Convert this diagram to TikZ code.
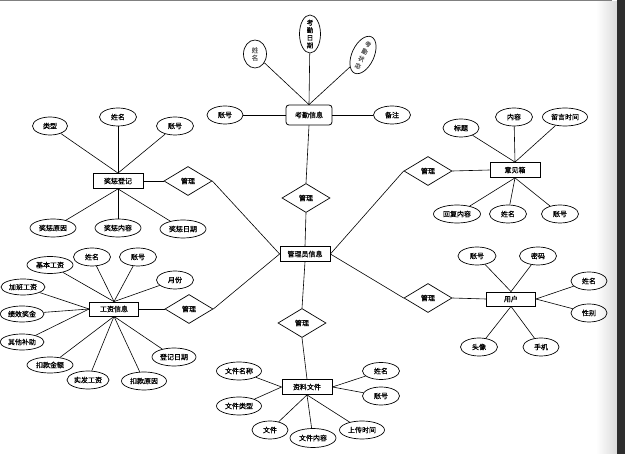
\documentclass[tikz,border=0pt]{standalone}
\usepackage{fontspec}
\newfontfamily\cjk[FakeBold=0.6]{Noto Sans CJK SC}
\usetikzlibrary{shapes.geometric}

\begin{document}
\begin{tikzpicture}[x=1pt,y=-1pt]
        \tikzset{entity box/.style={draw=black, line width=0.8pt, rectangle, inner sep=0pt,
                    minimum width=50, minimum height=15, font=\cjk\fontsize{7}{8}\selectfont},
                 attr oval/.style={draw=black, line width=0.7pt, ellipse, inner sep=0pt,
                    minimum width=37, minimum height=18, font=\cjk\fontsize{7}{8}\selectfont},
                 wide oval/.style={attr oval, minimum width=46},
                 rel diamond/.style={draw=black, line width=0.7pt, diamond, inner sep=0pt,
                    minimum width=48, minimum height=29, font=\cjk\fontsize{7}{8}\selectfont},
                 stack text/.style={font=\cjk\fontsize{6.5}{7.6}\selectfont, align=center, inner sep=0pt},
                 link/.style={draw=black, line width=0.6pt}}

        % page edge
        \useasboundingbox (0,0) rectangle (625,454);
        \fill[black!50] (0,0) rectangle (612,1.5);
        \draw[black!30, line width=0.5pt] (611,1.5) -- (611,14) -- (614,14);
        \shade[left color=white, right color=black!14] (596,1.5) rectangle (617,454);
        \fill[black!82] (617,0) rectangle (625,454);

        % central entity and relations
        \node[entity box] (admin) at (305,254) {管理员信息};
        \node[rel diamond] (r-kq) at (306,198) {管理};
        \node[rel diamond] (r-jc) at (188,181) {管理};
        \node[rel diamond] (r-gz) at (189,309) {管理};
        \node[rel diamond] (r-yj) at (428,171) {管理};
        \node[rel diamond] (r-yh) at (428,298) {管理};
        \node[rel diamond] (r-zl) at (302,323) {管理};

        % 考勤信息
        \node[entity box, rounded corners=3pt, minimum width=46, minimum height=20] (kaoqin) at (309,115) {考勤信息};
        \node[attr oval, minimum width=36] (kq-zh) at (225,115) {账号};
        \node[attr oval, minimum width=37] (kq-bz) at (392,115) {备注};
        \node[attr oval, minimum width=23, minimum height=28,
              label={[stack text, text=black!60]center:{姓\\名}}] (kq-xm) at (255,54) {};
        \node[attr oval, minimum width=21, minimum height=38,
              label={[stack text]center:{考\\勤\\日\\期}}] (kq-rq) at (310,34) {};
        \node[attr oval, minimum width=22, minimum height=40, rotate=-25,
              label={[stack text, text=black!60, rotate=-25,
                      font=\cjk\fontsize{6}{8}\selectfont]center:{考\\勤\\状\\态}}] (kq-zt) at (363,55) {};

        % 奖惩登记
        \node[entity box] (jiangcheng) at (118,181) {奖惩登记};
        \node[attr oval, minimum width=35] (jc-lx) at (50,126) {类型};
        \node[attr oval] (jc-xm) at (118,117) {姓名};
        \node[attr oval] (jc-zh) at (175,126) {账号};
        \node[wide oval] (jc-yy) at (53,228) {奖惩原因};
        \node[wide oval] (jc-nr) at (118,228) {奖惩内容};
        \node[wide oval] (jc-rq) at (183,229) {奖惩日期};

        % 工资信息
        \node[entity box, minimum width=49, minimum height=14] (gongzi) at (114,309) {工资信息};
        \node[wide oval, minimum height=17] (gz-jb) at (50,265) {基本工资};
        \node[attr oval] (gz-xm) at (92,257) {姓名};
        \node[attr oval] (gz-zh) at (138,257) {账号};
        \node[attr oval] (gz-yf) at (175,280) {月份};
        \node[wide oval, minimum width=44, minimum height=16] (gz-jbgz) at (23,287) {加班工资};
        \node[wide oval, minimum width=44, minimum height=16] (gz-jx) at (22,314) {绩效奖金};
        \node[wide oval, minimum width=44, minimum height=16] (gz-qt) at (22,342) {其他补助};
        \node[wide oval, minimum height=16] (gz-kk) at (50,365) {扣款金额};
        \node[wide oval, minimum width=42] (gz-sf) at (88,380) {实发工资};
        \node[wide oval, minimum width=45] (gz-kkyy) at (144,381) {扣款原因};
        \node[wide oval, minimum width=44] (gz-dj) at (174,357) {登记日期};

        % 意见箱
        \node[entity box] (yijian) at (515,170) {意见箱};
        \node[attr oval, minimum width=36] (yj-bt) at (461,128) {标题};
        \node[attr oval] (yj-nr) at (514,117) {内容};
        \node[wide oval, minimum width=45] (yj-ly) at (565,117) {留言时间};
        \node[wide oval, minimum width=47] (yj-hf) at (457,214) {回复内容};
        \node[attr oval] (yj-xm) at (508,214) {姓名};
        \node[attr oval] (yj-zh) at (560,214) {账号};

        % 用户
        \node[entity box, minimum width=49, minimum height=14] (yonghu) at (511,299) {用户};
        \node[attr oval, minimum width=38] (yh-zh) at (477,256) {账号};
        \node[attr oval] (yh-mm) at (538,256) {密码};
        \node[attr oval, minimum width=36] (yh-xm) at (589,281) {姓名};
        \node[attr oval, minimum width=36] (yh-xb) at (589,313) {性别};
        \node[attr oval] (yh-tx) at (479,347) {头像};
        \node[attr oval, minimum width=36] (yh-sj) at (541,347) {手机};

        % 资料文件
        \node[entity box] (ziliao) at (307,387) {资料文件};
        \node[wide oval, minimum width=45] (zl-mc) at (239,371) {文件名称};
        \node[wide oval, minimum width=45] (zl-lx) at (239,406) {文件类型};
        \node[attr oval, minimum width=36] (zl-wj) at (270,430) {文件};
        \node[wide oval, minimum height=19] (zl-nr) at (313,438) {文件内容};
        \node[wide oval, minimum width=45] (zl-sc) at (362,430) {上传时间};
        \node[attr oval, minimum width=37, minimum height=17] (zl-xm) at (381,371) {姓名};
        \node[attr oval, minimum width=37] (zl-zh) at (381,396) {账号};

        % relations
        \draw[link] (kaoqin.south) -- (r-kq.north);
        \draw[link] (r-kq.south) -- (admin.north);
        \draw[link] (jiangcheng.east) -- (r-jc.west);
        \draw[link] (r-jc.east) -- (admin.west);
        \draw[link] (gongzi.east) -- (r-gz.west);
        \draw[link] (r-gz.east) -- (admin.west);
        \draw[link] (r-yj.east) -- (yijian.west);
        \draw[link] (r-yj.west) -- (admin.east);
        \draw[link] (r-yh.east) -- (yonghu.west);
        \draw[link] (r-yh.west) -- (admin.east);
        \draw[link] (admin.south) -- (r-zl.north);
        \draw[link] (r-zl.south) -- (ziliao.north);

        % attributes
        \draw[link] (kq-zh) -- (kaoqin.west);
        \draw[link] (kq-bz) -- (kaoqin.east);
        \foreach \a in {kq-xm, kq-rq, kq-zt}
            \draw[link] (\a) -- (kaoqin.north);
        \foreach \a in {jc-lx, jc-xm, jc-zh}
            \draw[link] (\a) -- (jiangcheng.north);
        \foreach \a in {jc-yy, jc-nr, jc-rq}
            \draw[link] (\a) -- (jiangcheng.south);
        \foreach \a in {gz-jb, gz-xm, gz-zh, gz-yf}
            \draw[link] (\a) -- (gongzi.north);
        \foreach \a in {gz-jbgz, gz-jx, gz-qt}
            \draw[link] (\a) -- (gongzi.west);
        \foreach \a in {gz-kk, gz-sf, gz-kkyy, gz-dj}
            \draw[link] (\a) -- (gongzi.south);
        \foreach \a in {yj-bt, yj-nr, yj-ly}
            \draw[link] (\a) -- (yijian.north);
        \foreach \a in {yj-hf, yj-xm, yj-zh}
            \draw[link] (\a) -- (yijian.south);
        \foreach \a in {yh-zh, yh-mm}
            \draw[link] (\a) -- (yonghu.north);
        \foreach \a in {yh-xm, yh-xb}
            \draw[link] (\a) -- (yonghu.east);
        \foreach \a in {yh-tx, yh-sj}
            \draw[link] (\a) -- (yonghu.south);
        \foreach \a in {zl-mc, zl-lx}
            \draw[link] (\a) -- (ziliao.west);
        \foreach \a in {zl-xm, zl-zh}
            \draw[link] (\a) -- (ziliao.east);
        \foreach \a in {zl-wj, zl-nr, zl-sc}
            \draw[link] (\a) -- (ziliao.south);
    \end{tikzpicture}
\end{document}
